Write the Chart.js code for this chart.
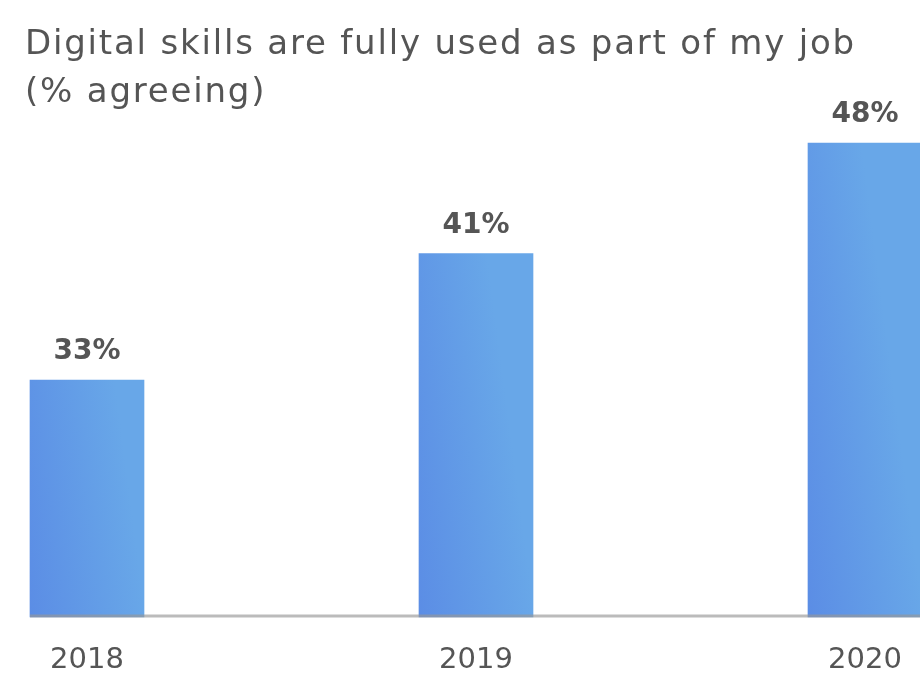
<!DOCTYPE html>
<html>
<head>
<meta charset="utf-8">
<script src="https://cdn.jsdelivr.net/npm/chart.js@4.4.1/dist/chart.umd.min.js"></script>
<style>
  body { margin: 0; background: #fff; }
  #wrap { position: relative; width: 920px; height: 677px; overflow: hidden; }
  #title {
    position: absolute; left: 25px; top: 18px;
    font-family: "DejaVu Sans", sans-serif; font-size: 34px; line-height: 48px;
    letter-spacing: 1.8px; color: #555; white-space: nowrap;
  }
  canvas { position: absolute; left: 0; top: 0; }
</style>
</head>
<body>
<div id="wrap">
  <canvas id="skillsChart" width="920" height="677"></canvas>
  <div id="title">Digital skills are fully used as part of my job<br>(% agreeing)</div>
</div>
<script>
const years = ['2018', '2019', '2020'];
const agreeing = [33, 41, 48];
const axisMin = 18;
const axisMax = 48;

const textGrey = '#555555';

// left-to-right blue fill for each bar
function barFill(ctx) {
  const chart = ctx.chart;
  if (!chart.chartArea || ctx.type !== 'data') return '#6199e6';
  const xs = chart.scales.x, ys = chart.scales.y;
  const half = ctx.dataset.barThickness / 2;
  const cx = xs.getPixelForValue(ctx.dataIndex);
  const g = chart.ctx.createLinearGradient(cx - half, ys.bottom, cx + half, ys.bottom - 15);
  g.addColorStop(0, '#5b8de5');
  g.addColorStop(1, '#68a7e8');
  return g;
}

// grey baseline across the bottom + value labels above bars
const barExtras = {
  id: 'barExtras',
  afterDatasetsDraw(chart) {
    const c = chart.ctx;
    const bars = chart.getDatasetMeta(0).data;
    const base = chart.scales.y.bottom;

    c.save();
    c.strokeStyle = 'rgba(150,150,150,0.65)';
    c.lineWidth = 3;
    c.beginPath();
    c.moveTo(bars[0].x - bars[0].width / 2, base - 1);
    c.lineTo(chart.width, base - 1);
    c.stroke();

    c.fillStyle = textGrey;
    c.font = 'bold 28px "DejaVu Sans", sans-serif';
    c.textAlign = 'center';
    c.textBaseline = 'alphabetic';
    bars.forEach((bar, i) => {
      c.fillText(agreeing[i] + '%', bar.x, bar.y - 21);
    });
    c.restore();
  }
};

new Chart(document.getElementById('skillsChart'), {
  type: 'bar',
  data: {
    labels: years,
    datasets: [{
      data: agreeing,
      base: axisMin,
      backgroundColor: barFill,
      borderWidth: 0,
      barThickness: 114,
      clip: false
    }]
  },
  options: {
    responsive: false,
    animation: false,
    layout: { padding: { left: 87, right: 55, top: 143, bottom: 0 } },
    plugins: {
      legend: { display: false },
      tooltip: { enabled: false }
    },
    scales: {
      x: {
        offset: false,
        grid: { display: false, drawTicks: false },
        border: { display: false },
        ticks: {
          color: textGrey,
          padding: 26,
          font: { family: '"DejaVu Sans", sans-serif', size: 29 }
        },
        afterFit(scale) {
          // fixed axis band; the end labels may hang past the plot edges
          scale.height = 60;
          scale.paddingLeft = 0;
          scale.paddingRight = 0;
        }
      },
      y: {
        display: false,
        min: axisMin,
        max: axisMax
      }
    }
  },
  plugins: [barExtras]
});
</script>
</body>
</html>
